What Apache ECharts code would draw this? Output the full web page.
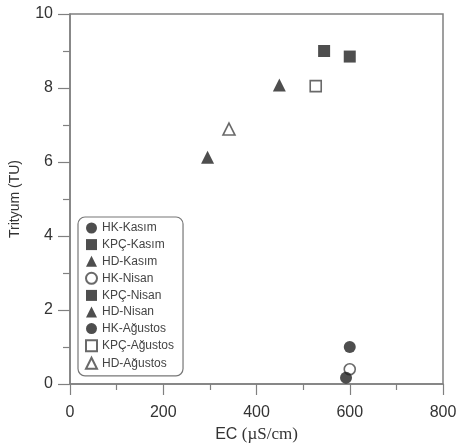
<!DOCTYPE html>
<html>
<head>
<meta charset="utf-8">
<script src="https://cdn.jsdelivr.net/npm/echarts@6/dist/echarts.min.js"></script>
<style>html,body{margin:0;padding:0;background:#fff}#c{width:457px;height:447px}</style>
</head>
<body>
<div id="c"></div>
<script>
// Series names (legend order)
const seriesNames = ['HK-Kasım','KPÇ-Kasım','HD-Kasım','HK-Nisan','KPÇ-Nisan','HD-Nisan','HK-Ağustos','KPÇ-Ağustos','HD-Ağustos'];
// EC (µS/cm) values per series
const ecValues = [600, 545, 295, 600, 600, 449, 592, 527, 341];
// Tritium (TU) values per series
const tuValues = [1.0, 9.0, 6.13, 0.4, 8.85, 8.08, 0.17, 8.05, 6.89];
// Marker shapes and fill styles
const shapes = ['circle','rect','triangle','circle','rect','triangle','circle','rect','triangle'];
const filled = [true, true, true, false, true, true, true, false, false];
const xTicks = [0, 200, 400, 600, 800];
const yTicks = [0, 2, 4, 6, 8, 10];

const dark = '#222';
const axisCol = '#808080';
const sizes = {circle: 12, rect: 12, triangle: 13};

const series = seriesNames.map((n, i) => ({
  name: n,
  type: 'scatter',
  symbol: shapes[i],
  symbolSize: filled[i] ? sizes[shapes[i]] : sizes[shapes[i]] - 1,
  itemStyle: filled[i]
    ? {color: dark, borderWidth: 0}
    : {color: '#fff', borderColor: '#444', borderWidth: 1.6},
  data: [[ecValues[i], tuValues[i]]],
  z: filled[i] ? 3 : 2
}));

const chart = echarts.init(document.getElementById('c'), null, {renderer: 'canvas'});
chart.setOption({
  animation: false,
  grid: {left: 70, right: 14, top: 14, bottom: 63, outerBoundsMode: 'none', containLabel: false, show: true, borderColor: axisCol, borderWidth: 1.5, backgroundColor: 'transparent'},
  xAxis: {
    type: 'value', min: xTicks[0], max: xTicks[xTicks.length - 1], interval: 200,
    name: '{a|EC }{b|(µS/cm)}', nameLocation: 'middle', nameGap: 39,
    nameTextStyle: {rich: {a: {fontFamily: 'Liberation Sans', fontSize: 16, color: '#333'}, b: {fontFamily: 'Liberation Serif', fontSize: 17, color: '#333'}}},
    axisLine: {lineStyle: {color: axisCol, width: 1.5}},
    axisTick: {show: true, inside: false, length: 11, lineStyle: {color: axisCol, width: 1.2}},
    minorTick: {show: true, splitNumber: 2, length: 6, lineStyle: {color: axisCol, width: 1.2}},
    splitLine: {show: false},
    axisLabel: {fontFamily: 'Liberation Sans', fontSize: 16, color: '#333', margin: 21}
  },
  yAxis: {
    type: 'value', min: yTicks[0], max: yTicks[yTicks.length - 1], interval: 2,
    name: 'Trityum (TU)', nameLocation: 'middle', nameGap: 48,
    nameTextStyle: {fontFamily: 'Liberation Sans', fontSize: 14, color: '#333'},
    axisLine: {lineStyle: {color: axisCol, width: 1.5}},
    axisTick: {show: true, inside: false, length: 12, lineStyle: {color: axisCol, width: 1.2}},
    minorTick: {show: true, splitNumber: 2, length: 7, lineStyle: {color: axisCol, width: 1.2}},
    splitLine: {show: false},
    axisLabel: {fontFamily: 'Liberation Sans', fontSize: 16, color: '#333', margin: 17}
  },
  legend: {
    orient: 'vertical', left: 78, top: 217,
    data: seriesNames,
    itemWidth: 11, itemHeight: 11, itemGap: 4.6,
    padding: [5, 9, 6, 7],
    backgroundColor: '#fff', borderColor: '#777', borderWidth: 1.2, borderRadius: 7,
    textStyle: {fontFamily: 'Liberation Sans', fontSize: 12, lineHeight: 12, color: '#444'},
    selectedMode: false
  },
  series: series
});
</script>
</body>
</html>
